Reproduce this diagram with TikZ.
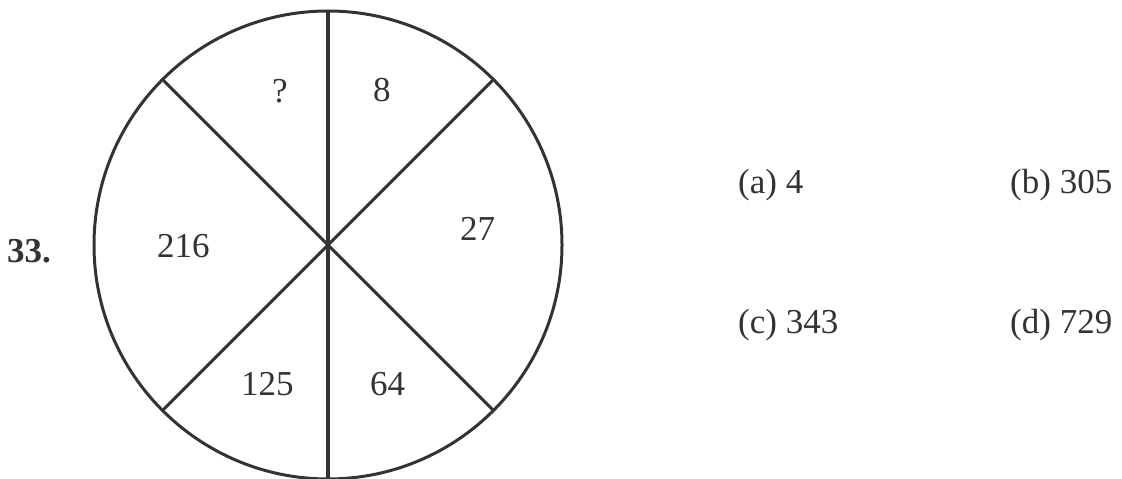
\documentclass[tikz,border=0pt]{standalone}
\usepackage{fontspec}
\setmainfont{Liberation Serif}
\usepackage{tikz}
\usetikzlibrary{calc,positioning,shapes.geometric}
\usepackage{xcolor}
\definecolor{ink}{HTML}{333333}

\tikzset{
	entry/.style={anchor=base west, inner sep=0pt, text=ink, font=\fontsize{35}{40}\selectfont},
	spoke/.style={draw=ink, line width=3pt},
}

\begin{document}
\begin{tikzpicture}[x=1pt, y=-1pt]
\useasboundingbox (0,0) rectangle (1122,479);
\node[circle, draw=ink, line width=3pt, inner sep=0pt, outer sep=0pt, minimum size=468pt] (dial) at (328,245) {};

\draw[spoke, line width=3.6pt] (dial.north) -- (dial.south);
\draw[spoke] (dial.north west) -- (dial.south east);
\draw[spoke] (dial.north east) -- (dial.south west);

\node[entry, font=\fontsize{35}{40}\selectfont\bfseries] (qnum) at (7,262) {33.};

\node[entry] (qmark) at (272,102) {?};
\node[entry] (cube2) at (373,101) {8};
\node[entry] (cube3) at (460,240) {27};
\node[entry] (cube6) at (157,257) {216};
\node[entry] (cube5) at (241,395) {125};
\node[entry] (cube4) at (370,395) {64};

\node[entry] (opta) at (738,193)  {(a) 4};
\node[entry] (optb) at (1010,193) {(b) 305};
\node[entry] (optc) at (738,333)  {(c) 343};
\node[entry] (optd) at (1010,333) {(d) 729};
\end{tikzpicture}
\end{document}
